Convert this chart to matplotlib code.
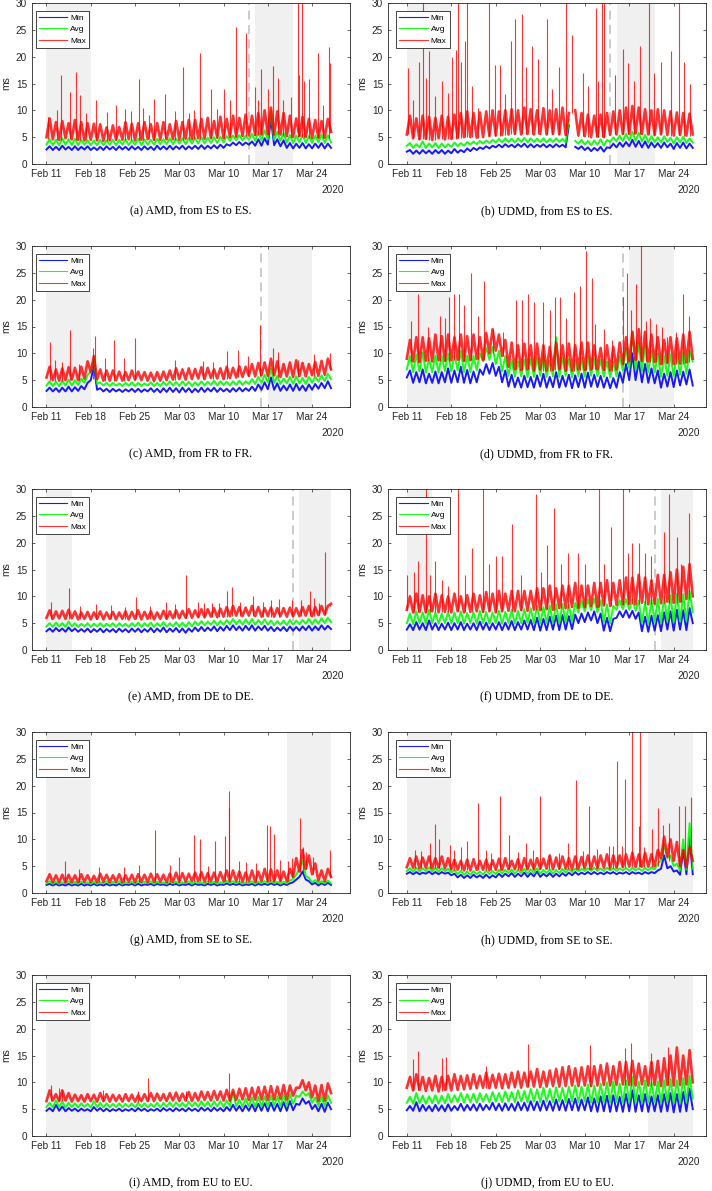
import numpy as np
import pandas as pd
import matplotlib
matplotlib.use("Agg")
import matplotlib.pyplot as plt
import matplotlib.dates as mdates

nan = np.nan

# 12-hourly samples, starting Feb 11 2020 00:00.
# The *_peaks lists hold the isolated Max spikes as (days after Feb 11, ms).
amd_es_min = [2.7, 3.3, 2.6, 3.2, 2.6, 3.4, 2.7, 3.2, 2.6, 3.3,
              2.6, 3.2, 2.7, 3.3, 2.6, 3.1, 2.6, 3.2, 2.6, 3.3,
              2.7, 3.2, 2.6, 3.3, 2.7, 3.2, 2.6, 3.3, 2.7, 3.2,
              2.6, 3.3, 2.7, 3.2, 2.6, 3.4, 2.7, 3.3, 2.7, 3.4,
              2.7, 3.3, 2.8, 3.4, 2.7, 3.3, 2.8, 3.4, 2.8, 3.5,
              2.8, 3.4, 2.9, 3.5, 2.9, 3.6, 3.0, 3.7, 3.4, 4.0,
              3.5, 4.1, 3.5, 4.0, 3.6, 4.2, 3.4, 4.6, 3.4, 4.8,
              3.6, 8.5, 3.5, 4.6, 3.3, 4.4, 3.0, 3.9, 2.9, 3.8,
              3.0, 3.9, 2.9, 3.7, 2.9, 3.8, 3.0, 3.9, 2.9, 3.8, 3.0]
amd_es_avg = [3.6, 4.6, 3.5, 4.5, 3.5, 4.8, 3.6, 4.6, 3.5, 4.7,
              3.5, 4.5, 3.6, 4.4, 3.5, 4.4, 3.5, 4.5, 3.5, 4.4,
              3.6, 4.5, 3.5, 4.5, 3.6, 4.6, 3.5, 4.5, 3.6, 4.7,
              3.5, 4.6, 3.6, 4.5, 3.6, 4.7, 3.7, 4.6, 3.7, 4.8,
              3.7, 4.7, 3.8, 4.8, 3.7, 4.8, 3.8, 4.9, 3.8, 5.0,
              3.8, 4.9, 3.9, 5.0, 3.9, 5.1, 4.0, 5.2, 4.3, 5.3,
              4.4, 5.4, 4.4, 5.3, 4.5, 5.6, 4.3, 6.0, 4.4, 6.3,
              4.6, 10.0, 4.5, 6.0, 4.3, 5.8, 4.0, 5.4, 3.9, 5.3,
              4.0, 5.5, 3.9, 5.2, 3.9, 5.3, 4.0, 5.5, 3.9, 5.4, 4.0]
amd_es_max = [5.0, 8.5, 4.6, 7.8, 4.5, 8.0, 4.8, 7.6, 4.6, 8.2,
              4.5, 7.8, 4.4, 7.6, 4.5, 7.5, 4.4, 7.4, 4.3, 6.8,
              4.4, 7.2, 4.5, 6.9, 4.5, 7.8, 4.6, 7.5, 4.4, 7.6,
              4.5, 7.8, 4.6, 7.4, 4.5, 7.6, 4.5, 7.8, 4.6, 7.4,
              4.6, 8.0, 4.5, 7.8, 4.7, 8.2, 4.6, 8.2, 4.8, 8.4,
              4.7, 8.6, 4.8, 8.0, 4.9, 8.8, 4.8, 8.4, 5.0, 9.0,
              5.1, 8.6, 5.2, 9.2, 5.3, 9.0, 5.4, 9.5, 5.5, 10.0,
              5.6, 10.5, 5.5, 9.8, 5.5, 9.5, 5.2, 9.0, 5.0, 8.5,
              5.2, 8.8, 5.0, 8.4, 4.8, 8.2, 4.9, 8.0, 4.9, 8.4, 6.0]
amd_es_peaks = [(0.3, 8.7), (1.7, 10.0), (2.3, 16.6), (3.7, 13.5), (4.6, 17.2), (5.3, 12.8),
                (6.2, 9.5), (7.8, 12.0), (9.5, 9.6), (11.0, 11.0), (12.4, 10.3), (13.3, 9.8),
                (14.7, 15.8), (15.3, 10.5), (16.2, 9.2), (17.0, 12.2), (18.8, 13.0), (20.4, 9.9),
                (21.6, 18.0), (22.5, 9.5), (23.4, 10.0), (24.3, 20.6), (26.0, 14.0), (27.0, 10.2),
                (28.0, 13.9), (29.0, 12.0), (30.0, 25.6), (31.5, 24.5), (32.9, 14.3), (33.5, 12.0),
                (34.0, 17.7), (35.0, 14.0), (35.8, 18.2), (36.6, 16.0), (37.4, 12.0), (38.7, 12.5),
                (39.7, 31.0), (40.0, 16.5), (40.4, 31.0), (40.8, 15.5), (41.5, 15.8), (42.9, 20.7),
                (43.7, 11.0), (44.6, 21.8), (44.9, 18.8)]

udmd_es_min = [2.3, 2.6, 1.9, 2.5, 1.9, 2.6, 2.0, 2.5, 1.9, 2.6,
               2.0, 2.6, 1.9, 2.5, 2.0, 2.8, 2.1, 2.6, 2.2, 2.9,
               2.4, 3.0, 2.6, 3.1, 2.8, 3.3, 2.9, 3.4, 3.1, 3.6,
               3.1, 3.7, 3.2, 3.6, 3.1, 3.7, 3.2, 3.8, 3.1, 3.7,
               3.1, 3.6, 3.2, 3.7, 3.1, 3.6, 3.1, 3.7, 3.2, 3.6,
               3.1, 7.2, nan, 3.2, 2.8, 3.3, 2.6, 3.1, 2.4, 3.0,
               2.5, 3.2, 2.3, 3.1, 3.0, 3.8, 3.1, 4.0, 3.2, 4.1,
               3.3, 4.5, 3.2, 4.3, 3.1, 4.2, 3.0, 4.0, 3.1, 3.9,
               3.0, 4.0, 3.1, 3.8, 2.8, 3.9, 3.0, 4.0, 2.9, 3.8, 3.0]
udmd_es_avg = [3.4, 3.9, 3.0, 3.7, 3.1, 4.2, 3.0, 3.8, 3.1, 3.9,
               3.0, 3.8, 3.1, 3.7, 3.2, 4.0, 3.3, 3.9, 3.4, 4.1,
               3.6, 4.2, 3.7, 4.3, 3.8, 4.4, 3.9, 4.5, 4.0, 4.7,
               4.0, 4.8, 4.1, 4.7, 4.0, 4.8, 4.1, 4.9, 4.0, 4.8,
               4.1, 4.7, 4.1, 4.8, 4.0, 4.7, 4.1, 4.8, 4.1, 4.7,
               4.0, 8.2, nan, 4.3, 3.8, 4.5, 3.6, 4.3, 3.5, 4.4,
               3.6, 4.6, 3.4, 4.5, 4.1, 5.0, 4.2, 5.3, 4.3, 5.6,
               4.4, 6.0, 4.3, 5.8, 4.2, 5.4, 4.0, 5.2, 4.1, 5.0,
               4.0, 5.2, 4.1, 4.9, 3.8, 5.0, 4.0, 5.1, 3.9, 4.8, 4.0]
udmd_es_max = [5.5, 9.0, 4.8, 8.5, 4.6, 9.0, 4.7, 8.8, 4.5, 8.6,
               4.8, 9.0, 4.6, 8.8, 4.7, 9.2, 4.9, 9.5, 5.0, 9.8,
               5.0, 9.5, 4.9, 9.6, 5.0, 9.8, 5.2, 10.0, 5.3, 9.8,
               5.4, 10.0, 5.5, 10.2, 5.6, 10.0, 5.5, 10.5, 5.6, 10.2,
               5.5, 10.0, 5.6, 10.4, 5.5, 10.0, 5.6, 10.2, 5.5, 10.5,
               5.4, 9.5, nan, 10.0, 5.3, 9.5, 5.2, 9.2, 5.0, 9.0,
               5.1, 9.2, 5.0, 9.5, 5.4, 9.8, 5.5, 10.0, 5.6, 10.5,
               5.6, 10.8, 5.7, 10.5, 5.6, 10.2, 5.5, 10.0, 5.4, 10.2,
               5.5, 10.0, 5.4, 9.8, 5.3, 9.6, 5.4, 9.5, 5.3, 9.4, 5.5]
udmd_es_peaks = [(0.2, 17.8), (1.05, 12.0), (1.9, 19.0), (2.6, 31.0), (3.0, 16.0), (3.5, 21.0),
                 (4.4, 12.7), (5.6, 15.5), (6.5, 13.2), (7.1, 20.0), (7.7, 21.3), (8.0, 31.0),
                 (8.5, 19.0), (9.1, 23.0), (9.4, 31.0), (10.2, 14.5), (11.2, 10.5), (13.0, 31.0),
                 (13.9, 18.5), (14.7, 18.5), (15.4, 13.0), (16.4, 23.0), (17.1, 27.0), (18.1, 28.0),
                 (18.8, 18.0), (19.7, 22.0), (20.7, 19.5), (22.0, 27.0), (22.9, 14.0), (23.9, 18.0),
                 (25.1, 31.0), (26.0, 24.0), (27.7, 17.0), (28.5, 14.5), (29.7, 29.0), (30.1, 15.5),
                 (30.7, 31.0), (31.1, 31.0), (32.8, 16.5), (34.1, 21.5), (34.8, 18.8), (35.7, 15.5),
                 (36.7, 22.0), (38.1, 31.0), (38.9, 17.0), (40.0, 19.0), (41.6, 21.0), (42.8, 31.0),
                 (43.7, 19.0), (44.6, 15.0)]

amd_fr_min = [3.0, 3.6, 2.9, 3.5, 2.8, 3.6, 2.9, 3.8, 2.9, 3.7,
              3.0, 3.9, 3.3, 4.5, 5.0, 7.6, 3.2, 3.5, 2.9, 3.4,
              2.8, 3.4, 2.9, 3.3, 2.8, 3.3, 2.9, 3.4, 2.8, 3.4,
              2.8, 3.3, 2.9, 3.5, 2.8, 3.4, 2.7, 3.5, 2.8, 3.6,
              2.8, 3.5, 2.7, 3.6, 2.8, 3.5, 2.7, 3.4, 2.8, 3.6,
              2.8, 3.5, 2.9, 3.6, 2.8, 3.5, 2.9, 3.4, 2.8, 3.5,
              2.9, 3.6, 2.9, 3.5, 3.0, 3.8, 3.0, 4.2, 3.2, 4.6,
              3.3, 5.5, 3.2, 4.4, 3.0, 4.0, 3.1, 4.2, 3.0, 4.3,
              3.1, 4.0, 3.0, 4.2, 3.2, 4.3, 3.4, 4.5, 3.5, 4.8, 3.5]
amd_fr_avg = [4.0, 4.8, 3.9, 4.7, 3.9, 4.9, 4.0, 5.1, 4.0, 5.0,
              4.1, 5.3, 4.5, 6.0, 6.5, 9.0, 4.3, 4.6, 4.0, 4.5,
              3.9, 4.5, 4.0, 4.4, 3.9, 4.5, 4.0, 4.6, 3.9, 4.5,
              3.9, 4.4, 4.0, 4.6, 3.9, 4.5, 3.9, 4.7, 4.0, 4.8,
              4.0, 4.7, 3.9, 4.8, 4.0, 4.7, 3.9, 4.6, 4.0, 4.8,
              4.0, 4.7, 4.1, 4.9, 4.0, 4.8, 4.1, 4.7, 4.0, 4.8,
              4.1, 4.9, 4.1, 4.8, 4.3, 5.2, 4.3, 5.6, 4.5, 6.0,
              4.6, 7.2, 4.5, 5.8, 4.3, 5.3, 4.4, 5.6, 4.3, 5.7,
              4.4, 5.4, 4.3, 5.6, 4.5, 5.7, 4.7, 5.9, 4.8, 6.2, 5.2]
amd_fr_max = [5.5, 7.5, 5.0, 7.0, 4.9, 7.2, 5.0, 7.4, 5.1, 7.3,
              5.0, 7.5, 5.3, 8.5, 6.5, 9.5, 5.2, 7.0, 4.9, 6.8,
              4.9, 6.8, 5.0, 6.6, 4.9, 6.5, 5.0, 6.8, 5.1, 6.6,
              5.0, 6.5, 4.9, 6.4, 4.8, 6.5, 4.9, 6.6, 5.0, 6.8,
              5.1, 7.2, 5.2, 7.0, 5.1, 7.2, 5.2, 7.1, 5.3, 7.4,
              5.2, 7.3, 5.4, 7.0, 5.3, 7.2, 5.2, 7.5, 5.4, 7.3,
              5.5, 7.6, 5.6, 7.5, 5.8, 8.0, 5.7, 8.2, 5.9, 8.3,
              5.8, 9.0, 5.9, 8.5, 5.6, 8.0, 5.7, 8.3, 5.6, 8.7,
              5.8, 8.2, 5.7, 8.0, 5.9, 8.4, 5.8, 8.6, 6.0, 9.0, 7.0]
amd_fr_peaks = [(0.6, 12.2), (1.3, 8.8), (2.4, 8.4), (3.7, 14.4), (5.2, 8.0), (7.3, 11.0),
                (7.6, 13.2), (9.3, 9.2), (10.7, 12.4), (12.2, 9.2), (14.0, 12.8), (20.4, 8.8),
                (24.7, 8.5), (26.3, 8.4), (28.5, 10.4), (30.3, 10.6), (31.8, 9.5), (33.7, 15.2),
                (35.8, 11.0), (36.6, 10.2), (39.7, 8.7), (42.3, 9.8), (44.9, 10.0)]

udmd_fr_min = [5.5, 6.8, 4.5, 6.5, 4.6, 7.0, 4.4, 6.2, 4.5, 6.6,
               4.4, 6.5, 4.6, 7.2, 4.5, 6.8, 4.6, 7.5, 4.5, 6.9,
               4.4, 6.6, 4.6, 7.0, 6.0, 8.0, 6.2, 8.2, 5.8, 7.5,
               4.6, 6.8, 3.8, 6.0, 3.7, 5.5, 3.6, 5.8, 3.7, 5.6,
               3.6, 5.9, 3.8, 6.2, 3.6, 5.6, 3.7, 6.5, 3.6, 5.8,
               3.8, 6.0, 3.5, 5.9, 3.7, 6.2, 3.6, 6.4, 3.8, 6.0,
               3.7, 5.8, 3.6, 5.5, 3.5, 5.4, 3.6, 6.5, 4.5, 8.0,
               5.0, 10.0, 5.0, 8.5, 4.6, 8.0, 4.5, 7.2, 4.4, 6.8,
               3.6, 6.2, 3.8, 6.5, 3.7, 6.8, 4.0, 6.6, 4.2, 7.0, 4.0]
udmd_fr_avg = [7.0, 9.5, 6.5, 9.8, 6.6, 10.2, 6.4, 9.0, 6.5, 9.6,
               6.4, 9.5, 6.7, 10.0, 6.6, 9.8, 6.8, 10.5, 6.5, 9.6,
               6.5, 9.5, 6.8, 10.0, 8.5, 11.0, 8.8, 11.2, 8.0, 10.5,
               6.6, 9.5, 5.8, 8.8, 5.6, 8.5, 5.7, 8.8, 5.5, 9.0,
               5.6, 9.2, 5.8, 9.5, 5.6, 8.6, 5.7, 13.0, 5.6, 9.2,
               5.8, 9.0, 5.5, 8.9, 5.7, 9.2, 5.6, 9.5, 5.8, 9.0,
               5.7, 8.8, 5.6, 8.5, 5.5, 8.4, 5.7, 9.5, 6.8, 11.0,
               7.2, 14.0, 7.0, 12.0, 6.6, 11.5, 6.5, 10.5, 6.4, 10.0,
               5.6, 9.5, 5.8, 9.8, 5.7, 10.0, 6.0, 10.2, 6.2, 10.5, 8.5]
udmd_fr_max = [9.0, 12.5, 8.5, 13.0, 8.4, 13.0, 8.6, 12.8, 8.5, 13.5,
               8.7, 13.2, 8.6, 13.5, 8.7, 13.0, 8.8, 13.5, 8.6, 13.2,
               8.7, 13.5, 8.9, 13.0, 8.8, 13.8, 10.0, 14.5, 10.5, 13.5,
               9.5, 12.5, 7.5, 12.0, 7.0, 11.5, 6.9, 11.8, 7.0, 11.5,
               6.8, 11.8, 7.0, 11.5, 6.8, 11.2, 6.9, 12.0, 7.0, 11.5,
               6.8, 11.8, 6.8, 11.5, 7.0, 12.0, 6.9, 12.0, 7.0, 11.5,
               7.0, 11.0, 6.9, 11.5, 6.8, 11.2, 7.0, 12.0, 8.0, 13.0,
               8.5, 14.0, 8.8, 14.5, 8.6, 14.0, 8.5, 13.5, 8.4, 13.0,
               8.0, 12.5, 8.2, 13.0, 8.0, 12.8, 8.1, 13.5, 8.3, 14.0, 9.0]
udmd_fr_peaks = [(0.6, 16.0), (1.8, 21.0), (3.3, 15.0), (5.3, 17.0), (6.0, 16.5), (6.7, 20.5),
                 (7.5, 21.0), (8.2, 21.0), (9.0, 19.0), (10.1, 25.0), (11.2, 17.0), (12.2, 23.5),
                 (13.5, 14.5), (15.1, 14.0), (17.2, 20.0), (18.2, 20.0), (19.1, 21.0), (20.0, 19.5),
                 (21.5, 19.5), (22.5, 18.0), (23.4, 20.5), (24.1, 20.5), (25.1, 16.5), (26.3, 21.5),
                 (27.3, 22.5), (28.2, 29.0), (29.1, 24.0), (29.6, 15.5), (31.1, 14.5), (32.3, 12.5),
                 (34.1, 20.5), (34.7, 25.0), (35.3, 18.0), (36.0, 23.0), (36.9, 31.0), (37.6, 16.0),
                 (38.3, 16.5), (39.2, 15.5), (40.1, 15.0), (41.0, 13.0), (42.4, 14.0), (43.5, 21.0),
                 (44.4, 17.0)]

amd_de_min = [3.5, 4.0, 3.4, 4.1, 3.5, 4.0, 3.4, 4.2, 3.5, 4.0,
              3.4, 3.9, 3.4, 4.0, 3.3, 3.9, 3.4, 4.0, 3.3, 3.9,
              3.4, 3.9, 3.3, 4.0, 3.4, 3.9, 3.3, 4.0, 3.4, 4.0,
              3.3, 3.9, 3.4, 4.1, 3.3, 4.0, 3.4, 4.2, 3.3, 4.0,
              3.4, 4.1, 3.3, 4.0, 3.2, 4.0, 3.4, 4.2, 3.5, 4.3,
              3.5, 4.2, 3.6, 4.4, 3.5, 4.3, 3.6, 4.5, 3.7, 4.6,
              3.7, 4.4, 3.6, 4.5, 3.7, 4.6, 3.6, 4.4, 3.7, 4.5,
              3.6, 4.3, 3.5, 4.2, 3.6, 4.3, 3.5, 4.4, 3.6, 4.3,
              3.6, 4.4, 3.7, 4.5, 3.6, 4.4, 3.7, 4.6, 3.8, 4.5, 3.9]
amd_de_avg = [4.4, 5.0, 4.3, 5.1, 4.4, 5.0, 4.3, 5.3, 4.4, 5.0,
              4.3, 4.9, 4.4, 5.0, 4.3, 4.9, 4.4, 5.0, 4.3, 4.9,
              4.4, 5.0, 4.3, 5.0, 4.4, 4.9, 4.3, 5.0, 4.4, 5.1,
              4.3, 5.0, 4.4, 5.1, 4.3, 5.0, 4.4, 5.2, 4.3, 5.0,
              4.4, 5.2, 4.3, 5.1, 4.3, 5.2, 4.4, 5.3, 4.6, 5.4,
              4.6, 5.3, 4.7, 5.5, 4.6, 5.4, 4.7, 5.6, 4.8, 5.8,
              4.8, 5.6, 4.7, 5.7, 4.8, 5.8, 4.7, 5.6, 4.8, 5.7,
              4.7, 5.5, 4.6, 5.4, 4.7, 5.5, 4.6, 5.6, 4.7, 5.5,
              4.8, 5.6, 4.9, 5.8, 4.8, 5.7, 4.9, 5.9, 5.0, 6.0, 5.2]
amd_de_max = [6.0, 7.4, 5.8, 7.2, 5.9, 7.3, 5.8, 7.5, 5.9, 7.2,
              5.7, 7.0, 5.8, 7.1, 5.7, 7.0, 5.8, 7.2, 5.7, 7.0,
              5.8, 7.1, 5.7, 7.0, 5.8, 7.2, 5.7, 7.1, 5.8, 7.4,
              5.7, 7.1, 5.8, 7.2, 5.7, 7.0, 5.8, 7.3, 5.8, 7.2,
              5.9, 7.4, 5.9, 7.3, 6.0, 7.6, 6.0, 7.4, 6.1, 7.6,
              6.1, 7.6, 6.2, 7.8, 6.1, 7.7, 6.2, 8.0, 6.3, 8.2,
              6.4, 8.0, 6.3, 7.9, 6.4, 8.2, 6.3, 8.0, 6.2, 7.8,
              6.3, 7.9, 6.2, 7.8, 6.3, 7.8, 6.2, 7.9, 6.3, 7.8,
              6.3, 8.0, 6.4, 8.2, 6.3, 8.0, 6.5, 8.2, 6.6, 8.2, 8.6]
amd_de_peaks = [(0.7, 9.0), (3.5, 11.5), (5.3, 8.2), (7.8, 8.6), (10.2, 8.4), (12.4, 8.0),
                (14.2, 9.8), (16.4, 8.2), (18.9, 9.0), (20.3, 8.5), (22.1, 14.0), (24.0, 9.0),
                (24.9, 8.8), (26.2, 8.8), (27.3, 8.7), (28.5, 11.0), (29.4, 11.7), (30.6, 9.0),
                (32.6, 10.0), (34.3, 9.0), (35.5, 9.3), (36.7, 9.5), (38.9, 9.3), (40.2, 9.4),
                (41.7, 11.0), (42.3, 9.7), (43.1, 8.8), (44.0, 18.3), (44.8, 8.6)]

udmd_de_min = [3.8, 4.8, 3.7, 5.2, 3.8, 5.0, 3.7, 5.5, 3.8, 5.0,
               3.7, 4.9, 3.8, 5.1, 3.7, 5.0, 3.8, 5.2, 3.7, 4.9,
               3.8, 5.0, 3.7, 5.3, 3.8, 5.1, 3.7, 5.0, 3.8, 5.2,
               3.7, 5.1, 3.8, 5.4, 3.7, 5.2, 3.8, 5.5, 3.8, 5.6,
               3.7, 6.0, 3.6, 5.8, 3.7, 6.2, 3.8, 6.4, 3.7, 6.5,
               3.8, 6.3, 3.9, 6.6, 5.0, 6.8, 5.2, 7.0, 5.5, 7.2,
               5.0, 6.8, 3.6, 6.0, 3.5, 5.8, 6.0, 7.2, 6.1, 7.4,
               6.0, 7.3, 5.8, 7.0, 3.5, 6.2, 3.4, 6.4, 3.6, 6.5,
               3.5, 7.0, 3.8, 7.2, 3.6, 7.5, 3.8, 7.4, 3.7, 7.8, 5.0]
udmd_de_avg = [5.0, 6.8, 4.8, 7.2, 5.0, 7.0, 4.9, 7.5, 5.0, 7.0,
               4.9, 6.8, 5.0, 7.1, 4.9, 7.0, 5.0, 7.2, 4.9, 6.9,
               5.0, 7.0, 4.9, 7.3, 5.0, 7.1, 4.9, 7.0, 5.0, 7.3,
               4.9, 7.1, 5.0, 7.5, 4.9, 7.3, 5.0, 7.6, 5.1, 7.8,
               5.0, 8.2, 4.9, 8.0, 5.0, 8.3, 5.1, 8.5, 5.0, 8.6,
               5.2, 8.4, 5.3, 8.8, 7.0, 9.2, 7.2, 9.4, 7.4, 9.6,
               7.0, 9.3, 5.2, 8.5, 5.0, 8.2, 7.5, 9.3, 7.6, 9.5,
               7.5, 9.4, 7.3, 9.2, 5.0, 9.0, 4.9, 9.3, 5.1, 9.6,
               5.0, 10.0, 5.3, 10.2, 5.1, 10.5, 5.3, 10.4, 5.4, 11.0, 7.0]
udmd_de_max = [7.5, 10.0, 7.0, 10.5, 7.1, 10.2, 7.0, 10.0, 7.2, 10.5,
               7.0, 10.2, 7.1, 10.0, 7.0, 10.5, 7.2, 10.0, 7.0, 10.2,
               7.1, 10.5, 7.2, 10.2, 7.1, 10.8, 7.2, 10.5, 7.0, 11.0,
               7.2, 10.5, 7.3, 11.0, 7.2, 11.0, 7.4, 11.0, 7.3, 11.0,
               7.5, 11.5, 7.4, 11.5, 7.6, 12.0, 7.5, 11.5, 7.8, 12.0,
               7.8, 12.0, 8.0, 12.5, 7.9, 12.0, 8.0, 12.0, 8.2, 12.5,
               8.0, 12.5, 8.3, 13.0, 8.2, 12.5, 8.4, 13.0, 8.5, 13.5,
               8.6, 13.5, 8.5, 14.0, 8.8, 13.5, 8.5, 13.0, 8.6, 14.0,
               8.7, 14.0, 9.0, 14.5, 8.8, 15.0, 9.0, 15.5, 9.5, 16.0, 10.0]
udmd_de_peaks = [(0.1, 14.0), (1.2, 14.5), (1.8, 16.5), (3.0, 31.0), (3.7, 14.0), (4.5, 16.5),
                 (5.5, 13.0), (6.5, 12.0), (8.1, 31.0), (9.2, 14.0), (10.2, 19.0), (12.0, 31.0),
                 (13.0, 16.0), (14.0, 17.5), (15.0, 17.5), (16.5, 23.5), (18.0, 14.0), (20.3, 29.0),
                 (21.1, 14.5), (22.0, 19.5), (23.1, 26.5), (24.2, 16.0), (25.3, 18.0), (27.0, 18.0),
                 (28.0, 16.0), (30.2, 31.0), (31.1, 16.0), (32.2, 23.0), (34.1, 31.0), (34.8, 18.0),
                 (35.4, 20.0), (36.6, 20.0), (37.5, 18.0), (38.4, 17.5), (40.4, 22.0), (41.3, 29.0),
                 (42.5, 21.0), (43.2, 16.0), (44.4, 25.5)]

amd_se_min = [1.5, 1.7, 1.4, 1.7, 1.4, 1.6, 1.4, 1.7, 1.4, 1.6,
              1.4, 1.7, 1.4, 1.6, 1.4, 1.7, 1.4, 1.6, 1.4, 1.7,
              1.4, 1.6, 1.4, 1.7, 1.4, 1.6, 1.5, 1.7, 1.4, 1.7,
              1.4, 1.6, 1.5, 1.7, 1.4, 1.7, 1.5, 1.6, 1.4, 1.7,
              1.5, 1.7, 1.4, 1.6, 1.5, 1.7, 1.4, 1.7, 1.5, 1.6,
              1.4, 1.7, 1.5, 1.7, 1.4, 1.6, 1.5, 1.8, 1.5, 1.7,
              1.5, 1.7, 1.4, 1.6, 1.5, 1.7, 1.4, 1.7, 1.5, 1.7,
              1.5, 1.8, 1.5, 1.7, 1.4, 1.7, 1.5, 1.8, 2.0, 2.5,
              3.0, 4.0, 2.5, 2.2, 1.6, 1.9, 1.4, 1.8, 1.5, 1.9, 1.5]
amd_se_avg = [1.8, 2.2, 1.7, 2.1, 1.7, 2.0, 1.8, 2.2, 1.7, 2.1,
              1.7, 2.1, 1.8, 2.0, 1.7, 2.1, 1.7, 2.0, 1.8, 2.2,
              1.7, 2.1, 1.8, 2.2, 1.7, 2.0, 1.8, 2.1, 1.7, 2.2,
              1.8, 2.1, 1.8, 2.2, 1.7, 2.1, 1.8, 2.0, 1.7, 2.2,
              1.8, 2.1, 1.7, 2.0, 1.8, 2.2, 1.7, 2.1, 1.8, 2.0,
              1.7, 2.2, 1.8, 2.1, 1.7, 2.0, 1.8, 2.3, 1.8, 2.2,
              1.8, 2.1, 1.7, 2.0, 1.8, 2.2, 1.7, 2.1, 1.8, 2.2,
              1.8, 2.3, 1.8, 2.1, 1.7, 2.1, 1.8, 2.3, 2.6, 3.4,
              4.5, 6.0, 3.2, 2.8, 2.0, 2.4, 1.8, 2.2, 1.8, 2.3, 1.8]
amd_se_max = [2.2, 3.5, 2.0, 3.3, 2.0, 3.4, 2.0, 3.4, 2.0, 3.3,
              2.0, 3.5, 2.1, 3.3, 2.0, 3.2, 2.0, 3.6, 2.1, 3.4,
              2.0, 3.3, 2.1, 3.5, 2.0, 3.3, 2.1, 3.4, 2.0, 3.5,
              2.1, 3.4, 2.0, 3.6, 2.1, 3.5, 2.1, 3.4, 2.0, 3.6,
              2.1, 3.8, 2.1, 3.7, 2.1, 3.6, 2.2, 3.8, 2.2, 3.9,
              2.1, 3.7, 2.2, 3.8, 2.1, 3.9, 2.2, 4.2, 2.2, 4.2,
              2.2, 4.0, 2.1, 3.8, 2.2, 4.2, 2.1, 4.0, 2.2, 4.5,
              2.2, 4.4, 2.2, 4.2, 2.2, 4.0, 2.2, 4.5, 3.0, 6.5,
              4.0, 8.0, 4.5, 7.0, 3.5, 5.5, 2.3, 4.2, 2.2, 4.5, 3.0]
amd_se_peaks = [(2.9, 6.0), (5.2, 4.5), (8.3, 4.8), (12.2, 4.8), (14.7, 5.2), (17.1, 11.7),
                (19.5, 5.3), (21.0, 6.8), (23.4, 10.8), (24.2, 10.0), (25.5, 5.0), (26.7, 9.7),
                (28.3, 10.6), (28.8, 19.0), (28.9, 15.8), (30.4, 6.0), (31.5, 5.8), (33.2, 5.5),
                (34.9, 12.7), (35.3, 12.4), (36.0, 11.0), (37.0, 6.2), (38.2, 6.0), (38.9, 6.5),
                (40.1, 14.0), (40.5, 8.5), (41.0, 7.6), (42.2, 6.8), (44.9, 8.0)]

udmd_se_min = [3.6, 3.9, 3.5, 3.9, 3.5, 3.8, 3.6, 4.0, 3.5, 3.9,
               3.5, 3.9, 3.6, 3.8, 3.3, 3.6, 2.9, 3.4, 2.8, 3.3,
               2.8, 3.4, 2.9, 3.3, 2.8, 3.4, 2.8, 3.3, 2.9, 3.6,
               3.0, 3.6, 3.1, 3.7, 3.0, 3.6, 3.1, 3.8, 3.0, 3.7,
               3.1, 4.0, 3.0, 3.6, 3.1, 3.7, 3.0, 3.6, 3.1, 3.7,
               3.2, 3.8, 3.3, 3.9, 3.4, 3.8, 3.5, 3.9, 3.5, 3.9,
               3.5, 3.8, 3.5, 3.9, 3.6, 3.9, 3.5, 3.8, 3.6, 3.9,
               3.5, 3.9, 3.6, 3.8, 3.5, 3.9, 3.6, 3.9, 3.7, 4.2,
               4.5, 7.0, 4.6, 5.0, 4.0, 4.2, 3.4, 8.0, 3.5, 10.5, 3.5]
udmd_se_avg = [4.1, 4.6, 4.0, 4.7, 4.0, 4.6, 4.1, 4.8, 4.0, 4.7,
               4.0, 4.6, 4.1, 4.5, 3.8, 4.3, 3.5, 4.1, 3.4, 4.0,
               3.4, 4.1, 3.5, 4.0, 3.4, 4.2, 3.5, 4.1, 3.5, 4.3,
               3.6, 4.3, 3.7, 4.4, 3.6, 4.3, 3.7, 4.5, 3.6, 4.4,
               3.7, 4.6, 3.6, 4.3, 3.7, 4.4, 3.6, 4.3, 3.7, 4.5,
               3.8, 4.5, 3.9, 4.6, 4.0, 4.5, 4.1, 4.6, 4.1, 4.7,
               4.1, 4.6, 4.1, 4.7, 4.2, 4.6, 4.1, 4.6, 4.2, 4.7,
               4.1, 4.7, 4.2, 4.6, 4.1, 4.7, 4.2, 4.8, 4.4, 5.5,
               6.0, 9.0, 6.5, 7.0, 5.0, 5.5, 4.2, 10.0, 4.3, 13.0, 4.5]
udmd_se_max = [4.8, 6.5, 4.7, 6.8, 4.6, 6.6, 4.7, 6.8, 4.6, 6.5,
               4.7, 6.8, 4.6, 6.5, 4.4, 6.2, 4.3, 6.0, 4.2, 6.2,
               4.2, 6.3, 4.3, 6.0, 4.3, 6.2, 4.2, 6.1, 4.3, 6.4,
               4.3, 6.5, 4.4, 6.0, 4.4, 6.3, 4.3, 6.5, 4.4, 6.2,
               4.4, 6.5, 4.5, 6.4, 4.5, 7.0, 4.4, 6.6, 4.5, 6.8,
               4.5, 6.5, 4.4, 6.8, 4.5, 6.7, 4.6, 7.0, 4.5, 6.8,
               4.6, 7.0, 4.7, 7.2, 4.6, 7.0, 4.7, 7.0, 4.8, 7.2,
               4.9, 7.5, 4.8, 7.2, 4.9, 7.5, 4.9, 7.2, 5.0, 8.0,
               6.5, 10.5, 6.8, 10.0, 6.0, 9.5, 5.0, 8.0, 4.8, 8.5, 6.0]
udmd_se_peaks = [(1.3, 8.0), (2.3, 7.8), (3.7, 9.3), (4.4, 12.8), (5.0, 10.0), (6.8, 9.0),
                 (7.5, 8.0), (8.6, 8.5), (9.5, 9.6), (11.2, 16.8), (12.5, 8.0), (13.3, 7.5),
                 (14.6, 18.0), (16.1, 10.8), (17.5, 7.6), (18.8, 9.3), (19.8, 8.0), (21.0, 18.0),
                 (22.3, 7.0), (24.0, 7.5), (25.3, 9.3), (26.6, 21.0), (27.8, 7.8), (28.7, 16.2),
                 (30.0, 8.2), (31.8, 8.8), (32.4, 8.8), (33.0, 24.6), (33.8, 8.8), (34.3, 21.2),
                 (35.5, 31.0), (36.5, 12.5), (36.7, 31.0), (37.3, 8.5), (38.6, 12.0), (39.5, 15.8),
                 (40.3, 12.7), (41.3, 13.0), (42.8, 16.2), (43.8, 16.2), (44.7, 17.8)]

amd_eu_min = [4.7, 5.2, 4.6, 5.8, 4.7, 5.5, 4.6, 5.2, 4.7, 5.1,
              4.6, 5.1, 4.7, 5.0, 4.6, 5.4, 4.7, 5.2, 4.6, 5.1,
              4.6, 5.0, 4.7, 5.1, 4.6, 5.0, 4.7, 5.1, 4.6, 5.2,
              4.7, 5.1, 4.6, 5.0, 4.7, 5.1, 4.6, 5.2, 4.7, 5.1,
              4.6, 5.2, 4.7, 5.1, 4.6, 5.2, 4.7, 5.1, 4.6, 5.3,
              4.7, 5.2, 4.6, 5.3, 4.7, 5.2, 4.6, 5.4, 4.7, 5.8,
              4.7, 5.6, 4.6, 5.7, 4.7, 5.9, 4.6, 6.0, 4.7, 6.1,
              4.6, 6.2, 4.7, 6.0, 4.6, 6.3, 4.7, 6.5, 4.8, 6.0,
              5.8, 7.0, 6.0, 6.5, 5.0, 5.8, 4.6, 6.0, 4.5, 6.2, 5.0]
amd_eu_avg = [5.4, 6.2, 5.3, 6.6, 5.4, 6.4, 5.3, 6.2, 5.4, 6.1,
              5.3, 6.1, 5.4, 6.0, 5.3, 6.5, 5.4, 6.2, 5.3, 6.1,
              5.3, 6.0, 5.4, 6.1, 5.3, 6.0, 5.4, 6.1, 5.3, 6.2,
              5.4, 6.1, 5.3, 6.0, 5.4, 6.2, 5.3, 6.2, 5.4, 6.3,
              5.4, 6.3, 5.5, 6.2, 5.4, 6.4, 5.5, 6.3, 5.4, 6.5,
              5.5, 6.4, 5.4, 6.5, 5.5, 6.5, 5.4, 6.6, 5.5, 8.2,
              5.5, 6.8, 5.4, 7.0, 5.5, 7.2, 5.4, 7.3, 5.5, 7.4,
              5.5, 7.5, 5.6, 7.4, 5.5, 7.7, 5.6, 7.8, 6.0, 7.5,
              7.3, 8.3, 7.5, 8.0, 6.2, 7.2, 5.6, 7.4, 5.5, 7.6, 6.2]
amd_eu_max = [6.5, 8.5, 6.6, 7.8, 6.5, 8.5, 6.6, 8.0, 6.4, 7.7,
              6.5, 7.6, 6.4, 7.8, 6.5, 7.7, 6.4, 8.0, 6.5, 7.8,
              6.4, 7.7, 6.5, 7.6, 6.4, 7.8, 6.5, 7.7, 6.4, 7.6,
              6.5, 7.8, 6.5, 8.0, 6.5, 7.9, 6.6, 7.8, 6.5, 8.0,
              6.6, 8.1, 6.5, 7.9, 6.6, 8.2, 6.5, 8.0, 6.6, 8.3,
              6.7, 8.2, 6.6, 8.4, 6.7, 8.3, 6.6, 8.6, 6.6, 8.6,
              6.7, 8.8, 6.8, 8.9, 6.7, 9.0, 6.8, 9.1, 6.8, 9.2,
              6.7, 9.3, 6.8, 9.2, 6.9, 9.5, 6.8, 9.4, 7.5, 9.0,
              9.0, 10.4, 8.5, 10.0, 7.2, 9.4, 6.5, 9.5, 6.6, 9.8, 8.0]
amd_eu_peaks = [(0.7, 9.5), (2.0, 9.0), (2.5, 8.5), (9.0, 8.5), (14.5, 8.3), (16.0, 10.8),
                (22.0, 8.4), (28.8, 11.8)]

udmd_eu_min = [4.8, 5.6, 4.7, 6.3, 4.6, 5.8, 4.7, 5.6, 4.6, 5.8,
               4.7, 5.7, 4.6, 5.9, 4.7, 5.6, 4.8, 6.0, 4.7, 5.8,
               4.8, 5.9, 4.7, 6.0, 4.8, 5.8, 4.9, 6.2, 4.8, 6.0,
               4.7, 6.1, 4.8, 6.0, 4.7, 6.3, 4.8, 6.2, 4.7, 6.5,
               4.8, 6.4, 4.7, 6.6, 4.8, 6.5, 4.7, 6.8, 4.8, 6.7,
               4.7, 6.9, 4.8, 7.0, 4.7, 6.8, 4.8, 7.2, 4.6, 7.0,
               4.5, 7.4, 4.6, 7.5, 4.5, 7.6, 4.6, 7.3, 4.5, 7.8,
               4.6, 8.5, 4.5, 7.6, 4.6, 7.8, 4.5, 7.4, 4.6, 7.6,
               4.5, 7.8, 4.6, 8.0, 4.4, 7.8, 4.5, 8.2, 4.6, 8.8, 5.0]
udmd_eu_avg = [6.2, 7.3, 6.0, 8.0, 6.1, 7.5, 6.0, 7.4, 6.1, 7.6,
               6.0, 7.5, 6.1, 7.8, 6.2, 7.6, 6.3, 8.0, 6.2, 7.8,
               6.3, 7.9, 6.2, 8.0, 6.4, 7.8, 6.3, 8.2, 6.4, 8.0,
               6.3, 8.3, 6.4, 8.2, 6.3, 8.5, 6.4, 8.4, 6.3, 8.8,
               6.4, 8.7, 6.3, 9.0, 6.4, 8.8, 6.3, 9.1, 6.4, 9.0,
               6.3, 9.2, 6.4, 9.4, 6.3, 9.2, 6.4, 9.6, 6.2, 9.4,
               6.2, 9.8, 6.3, 10.0, 6.2, 10.2, 6.3, 9.8, 6.2, 10.4,
               6.3, 11.0, 6.2, 10.2, 6.3, 10.4, 6.2, 10.0, 6.3, 10.2,
               6.2, 10.4, 6.3, 10.6, 6.1, 10.4, 6.2, 10.8, 6.3, 11.2, 7.0]
udmd_eu_max = [9.0, 11.0, 8.5, 11.5, 8.6, 11.0, 8.4, 10.8, 8.5, 11.2,
               8.3, 11.0, 8.6, 11.2, 8.5, 11.5, 8.6, 11.2, 8.7, 11.3,
               8.8, 11.5, 8.9, 11.2, 9.0, 11.8, 8.9, 11.4, 9.0, 11.6,
               8.9, 11.5, 9.0, 11.8, 9.1, 12.0, 9.0, 11.8, 9.2, 12.0,
               9.2, 12.5, 9.1, 12.0, 9.2, 12.2, 9.3, 12.5, 9.2, 12.8,
               9.3, 13.0, 9.4, 12.6, 9.3, 12.8, 9.4, 13.0, 9.3, 13.0,
               9.4, 13.2, 9.5, 13.5, 9.4, 13.0, 9.5, 13.8, 9.6, 13.8,
               9.5, 14.0, 9.4, 13.5, 9.6, 13.0, 9.4, 13.8, 9.5, 14.0,
               9.3, 14.5, 9.5, 15.0, 9.4, 16.5, 9.5, 15.0, 9.6, 16.0, 10.0]
udmd_eu_peaks = [(0.9, 14.4), (1.8, 15.8), (5.6, 14.6), (6.2, 14.7), (12.4, 13.0), (19.0, 17.2),
                 (28.9, 17.0), (34.3, 16.4), (35.3, 17.3), (38.5, 15.5), (41.1, 16.5)]

captions = ["(a) AMD, from ES to ES.", "(b) UDMD, from ES to ES.",
            "(c) AMD, from FR to FR.", "(d) UDMD, from FR to FR.",
            "(e) AMD, from DE to DE.", "(f) UDMD, from DE to DE.",
            "(g) AMD, from SE to SE.", "(h) UDMD, from SE to SE.",
            "(i) AMD, from EU to EU.", "(j) UDMD, from EU to EU."]
series = [(amd_es_min, amd_es_avg, amd_es_max, amd_es_peaks),
          (udmd_es_min, udmd_es_avg, udmd_es_max, udmd_es_peaks),
          (amd_fr_min, amd_fr_avg, amd_fr_max, amd_fr_peaks),
          (udmd_fr_min, udmd_fr_avg, udmd_fr_max, udmd_fr_peaks),
          (amd_de_min, amd_de_avg, amd_de_max, amd_de_peaks),
          (udmd_de_min, udmd_de_avg, udmd_de_max, udmd_de_peaks),
          (amd_se_min, amd_se_avg, amd_se_max, amd_se_peaks),
          (udmd_se_min, udmd_se_avg, udmd_se_max, udmd_se_peaks),
          (amd_eu_min, amd_eu_avg, amd_eu_max, amd_eu_peaks),
          (udmd_eu_min, udmd_eu_avg, udmd_eu_max, udmd_eu_peaks)]
# grey periods and dashed marker per country row
shades = [[("2020-02-11", "2020-02-18"), ("2020-03-15", "2020-03-21")],
          [("2020-02-11", "2020-02-18"), ("2020-03-17", "2020-03-24")],
          [("2020-02-11", "2020-02-15"), ("2020-03-22", "2020-03-27")],
          [("2020-02-11", "2020-02-18"), ("2020-03-20", "2020-03-27")],
          [("2020-02-11", "2020-02-18"), ("2020-03-20", "2020-03-27")]]
vlines = ["2020-03-14", "2020-03-16", "2020-03-21", None, None]
tick_dates = ["2020-02-11", "2020-02-18", "2020-02-25", "2020-03-03",
              "2020-03-10", "2020-03-17", "2020-03-24"]

plt.rcParams['font.family'] = ['Liberation Sans', 'DejaVu Sans']
fig = plt.figure(figsize=(7.12, 11.91), dpi=100)
W, H = 712, 1191
col_left = [32, 388]
col_xlim = [("2020-02-08 17:00", "2020-03-30 00:00"), ("2020-02-08 01:00", "2020-03-29 02:00")]
row_top = [3, 246, 489, 732, 975]
axw, axh = 318, 161
dark = (0.15, 0.15, 0.15)
start = pd.Timestamp("2020-02-11")
red = (1, 0, 0)

for k in range(10):
    r, c = divmod(k, 2)
    ax = fig.add_axes([col_left[c] / W, 1 - (row_top[r] + axh) / H, axw / W, axh / H])
    for a, b in shades[r]:
        ax.axvspan(pd.Timestamp(a), pd.Timestamp(b), color=(0.94, 0.94, 0.94), lw=0, zorder=0)
    if vlines[r]:
        ax.axvline(pd.Timestamp(vlines[r]), color=(0.78, 0.78, 0.78), lw=1.3,
                   ls=(0, (5, 3)), zorder=1)
    mn, av, mx, peaks = series[k]
    for vals, col, lab, al, lw in [(mn, (0, 0, 1), "Min", 0.9, 1.4),
                                   (av, (0, 1, 0), "Avg", 0.9, 1.4),
                                   (mx, red, "Max", 0.8, 1.9)]:
        t = pd.date_range(start, periods=len(vals), freq="12h")
        ax.plot(t, vals, color=col, lw=lw, alpha=al, label=lab, zorder=2,
                solid_joinstyle="round")
    # isolated Max spikes rise from the band
    base = np.array(mx)
    pt = [start + pd.Timedelta(days=d) for d, v in peaks]
    foot = [np.nanmin(base[max(int(round(d * 2)) - 1, 0):int(round(d * 2)) + 2]) for d, v in peaks]
    ax.vlines(pt, foot, [v for d, v in peaks], color=red, lw=0.8, alpha=0.8, zorder=2)

    ax.set_ylim(0, 30)
    ax.set_yticks(range(0, 31, 5))
    ax.set_xlim(pd.Timestamp(col_xlim[c][0]), pd.Timestamp(col_xlim[c][1]))
    ax.set_xticks([pd.Timestamp(d) for d in tick_dates])
    ax.xaxis.set_major_formatter(mdates.DateFormatter("%b %d"))
    ax.tick_params(direction="in", length=2.5, width=0.5, labelsize=7.2,
                   colors=dark, top=True, right=True, pad=3.5)
    for s in ax.spines.values():
        s.set_color(dark)
        s.set_linewidth(0.6)
    ax.set_ylabel("ms", fontsize=7.5, color=dark, labelpad=3)
    ax.text(0.98, -0.16, "2020", transform=ax.transAxes, ha="right", va="center",
            fontsize=7.2, color=dark)
    leg = ax.legend(loc="upper left", bbox_to_anchor=(0.012 + 0.014 * c, 0.95),
                    borderaxespad=0, fontsize=6, handlelength=3.4, handletextpad=0.4,
                    labelspacing=0.45, borderpad=0.35, frameon=True, fancybox=False,
                    framealpha=1)
    leg.get_frame().set_edgecolor(dark)
    leg.get_frame().set_linewidth(0.6)
    for h in leg.get_lines():
        h.set_linewidth(0.8)
    fig.text((col_left[c] + axw / 2) / W, 1 - (row_top[r] + 208) / H, captions[k],
             ha="center", va="center", fontsize=8.6, family="Liberation Serif")

fig.savefig("out.png", dpi=100)
